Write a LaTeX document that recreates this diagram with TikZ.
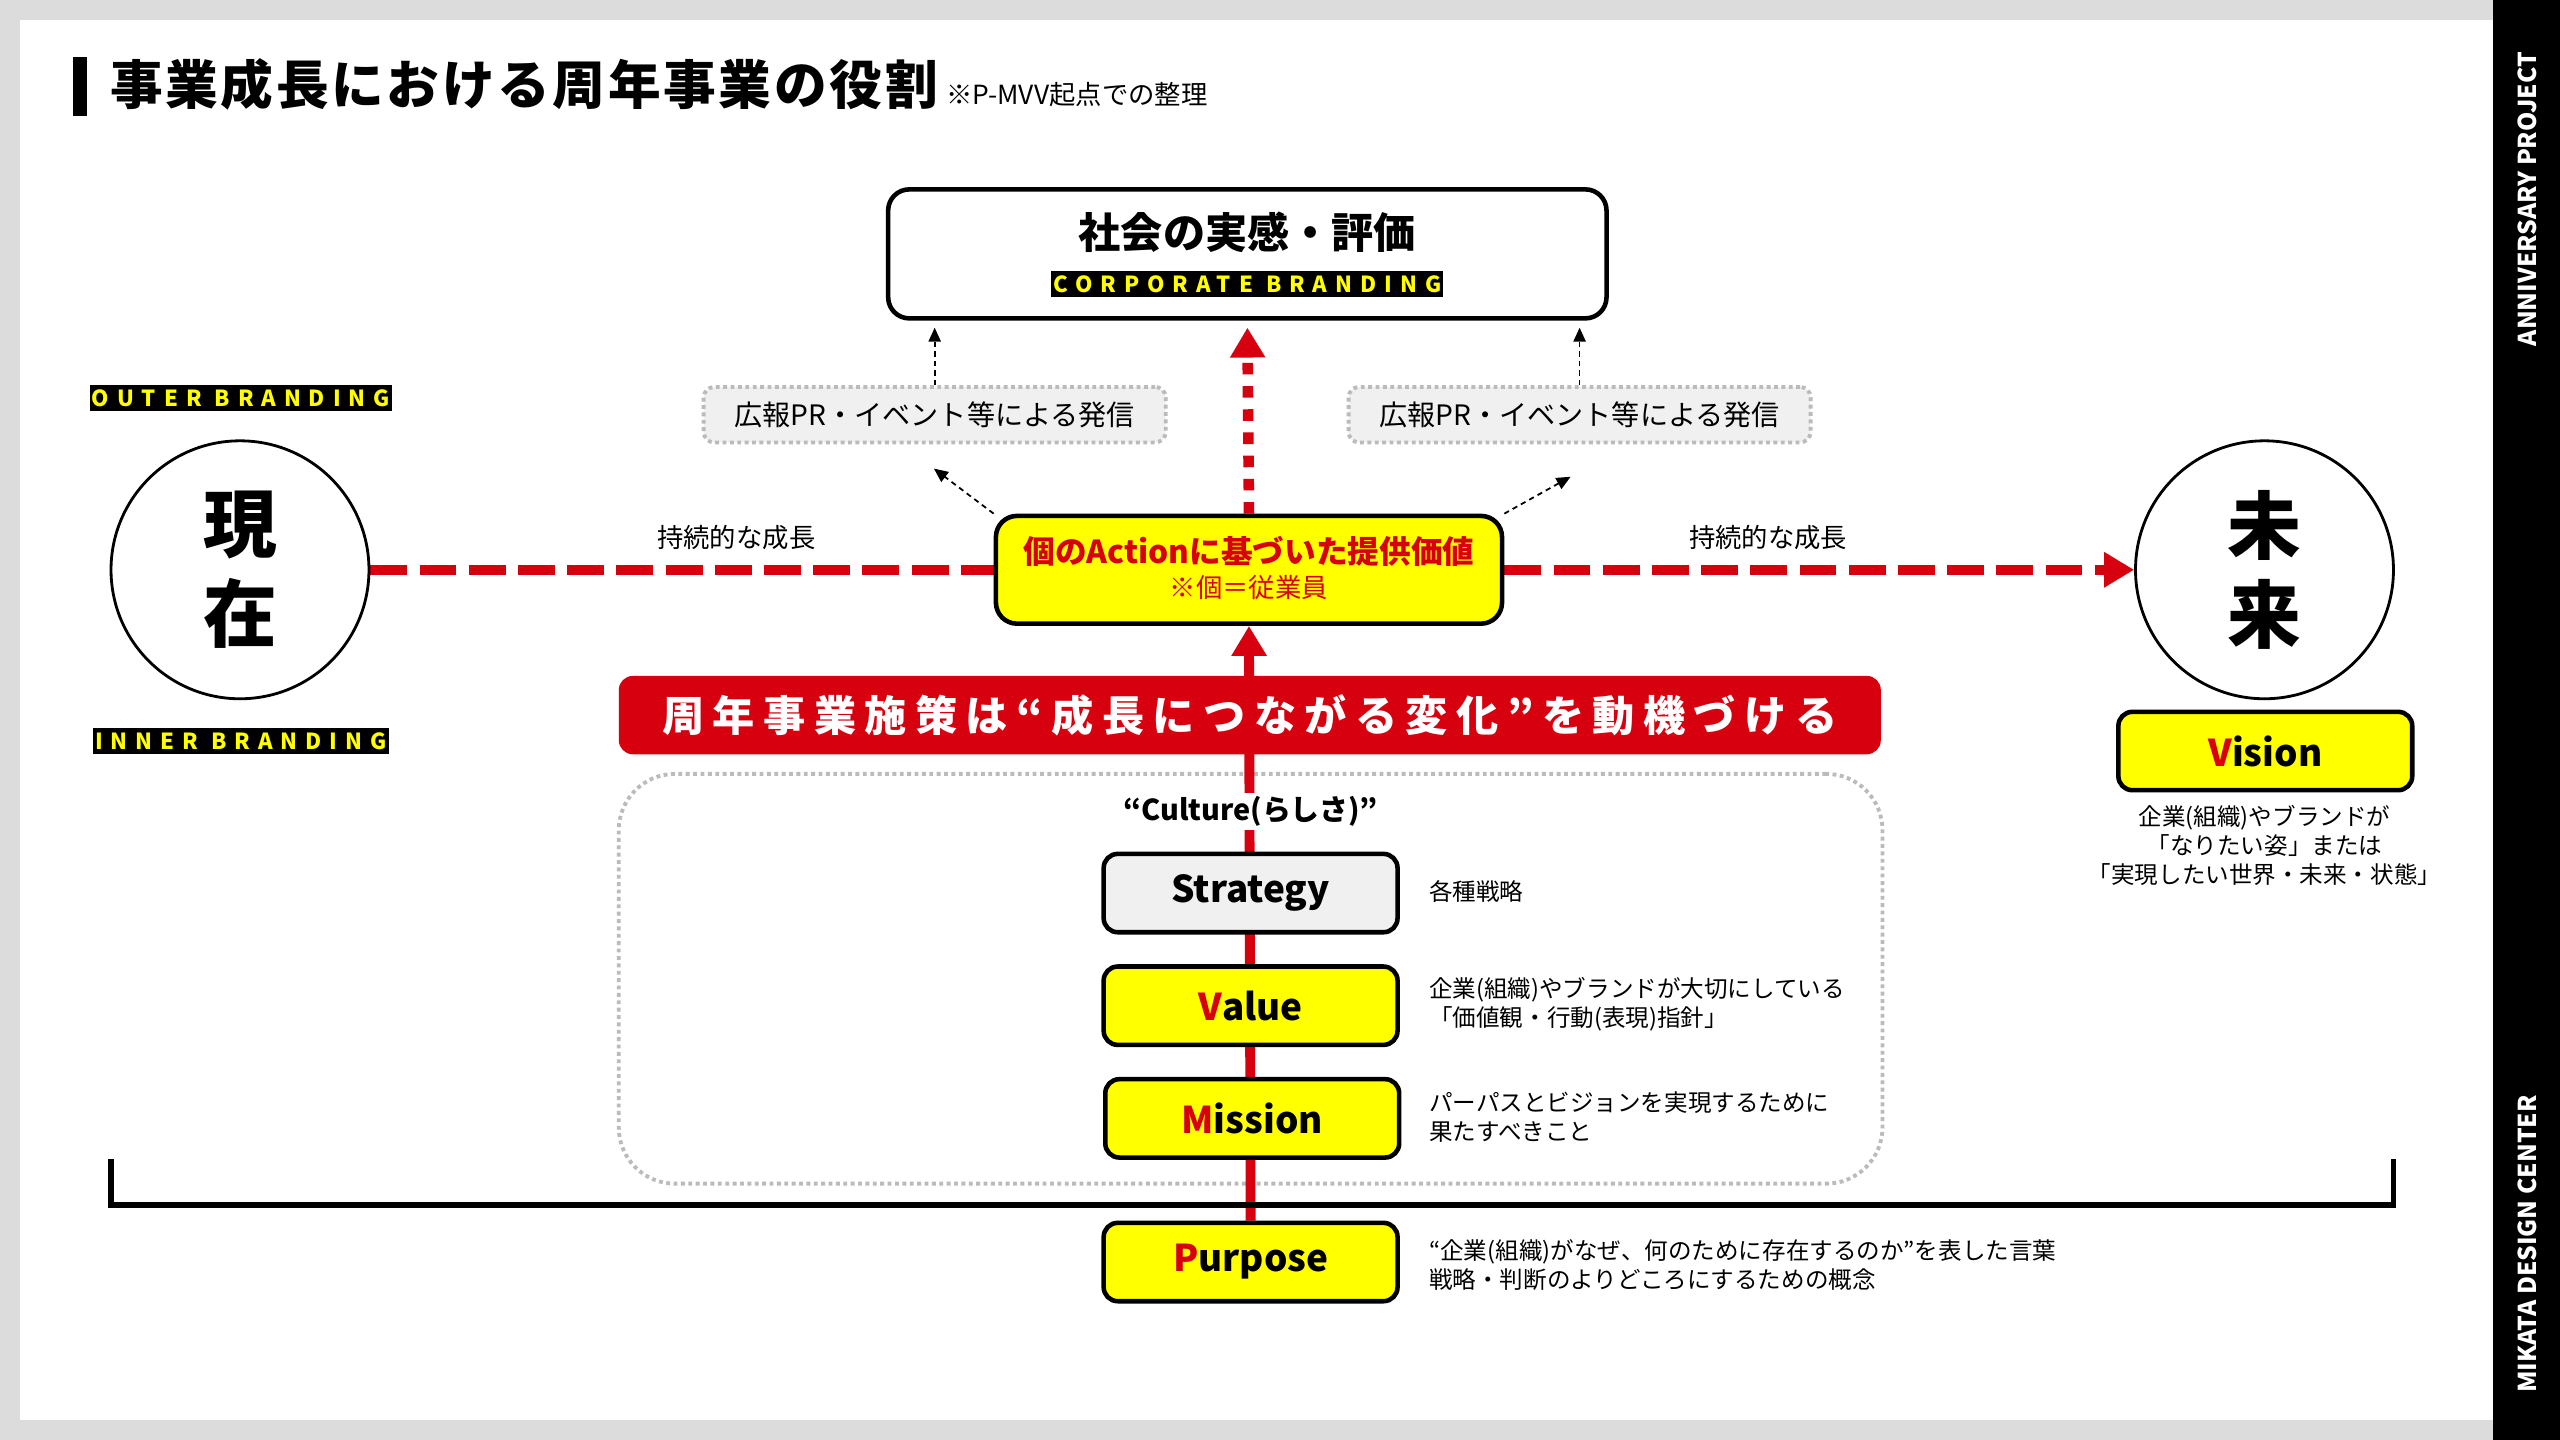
\documentclass[tikz,border=0pt]{standalone}
\usepackage{fontspec}
\usepackage{xcolor}
\usepackage{tikz}
\usetikzlibrary{arrows.meta,calc,positioning}

\setmainfont{Noto Sans CJK JP}
\newfontfamily\spacedfont[LetterSpace=36]{Noto Sans CJK JP}
\newfontfamily\bannerfont[LetterSpace=20]{Noto Sans CJK JP}
\newfontfamily\titlefont[LetterSpace=5]{Noto Sans CJK JP}

\definecolor{mkred}{HTML}{D7000F}
\definecolor{mkyellow}{HTML}{FFFF00}
\definecolor{panelgray}{HTML}{DCDCDC}
\definecolor{boxgray}{HTML}{F0F0F0}
\definecolor{dotgray}{HTML}{BBBBBB}

\newcommand{\mkpx}{0.016327cm}

\pgfdeclarelayer{paper}
\pgfdeclarelayer{wires}
\pgfsetlayers{paper,wires,main}

\tikzset{
  mvvbox/.style={draw, line width=1.3pt, rounded corners=4pt, inner sep=0pt,
    minimum width=180*\mkpx, minimum height=48*\mkpx,
    font=\bfseries\fontsize{10.5}{12}\selectfont},
  yellowbox/.style={mvvbox, fill=mkyellow},
  tagbox/.style={fill=black, text=mkyellow, inner sep=0pt, minimum height=16*\mkpx,
    font=\spacedfont\bfseries\fontsize{6.3}{7}\selectfont},
  prbox/.style={draw=dotgray, line width=1.1pt, densely dotted, fill=boxgray,
    rounded corners=3pt, minimum width=283*\mkpx, minimum height=34*\mkpx,
    font=\fontsize{8}{9}\selectfont},
  timecircle/.style={draw, line width=0.8pt, circle, minimum size=158*\mkpx,
    align=center, font=\bfseries\fontsize{21}{25.5}\selectfont},
  desc/.style={inner sep=0pt, align=left, font=\fontsize{6.7}{8.3}\selectfont},
  striptext/.style={rotate=90, text=white, font=\bfseries\fontsize{7}{8}\selectfont},
  reddash/.style={mkred, line width=3pt, dash pattern=on 10.5pt off 3.5pt},
  reddot/.style={mkred, line width=3pt, dash pattern=on 3.3pt off 3.3pt},
  redtip/.style={-{Triangle[width=9.5pt,length=8.5pt]}},
  tipline/.style={line width=0.5pt, dash pattern=on 1.5pt off 1.2pt,
    -{Triangle[width=3.5pt,length=4pt]}}
}

\begin{document}
\begin{tikzpicture}[x=\mkpx, y=-\mkpx]
  \useasboundingbox (0,0) rectangle (1568,882);
  \begin{pgfonlayer}{paper}
    \fill[panelgray] (0,0) rectangle (1568,882);
    \fill[white] (12,12) rectangle (1527,870);
    \fill[black] (1527,0) rectangle (1568,882);
  \end{pgfonlayer}

  % side strip
  \node[striptext] (project) at (1548,122) {ANNIVERSARY PROJECT};
  \node[striptext] (center) at (1548,762) {MIKATA DESIGN CENTER};

  % title
  \fill (45,35) rectangle (53,71);
  \node[anchor=west, inner sep=0pt, font=\titlefont\bfseries\fontsize{15}{17}\selectfont] (title) at (67,52) {事業成長における周年事業の役割};
  \node[anchor=base west, inner sep=0pt, font=\fontsize{7.5}{9}\selectfont] (subtitle) at ([xshift=2pt]title.base east) {※P-MVV起点での整理};

  % top
  \node[mvvbox, fill=white, rounded corners=6pt, minimum width=440*\mkpx, minimum height=79*\mkpx] (society) at (764,155.5) {};
  \node[font=\bfseries\fontsize{12}{14}\selectfont] (societytxt) at (764,142) {社会の実感・評価};
  \node[tagbox, minimum width=240*\mkpx] (corporate) at (764,174) {CORPORATE BRANDING};

  \node[prbox] (prL) at (572.5,254) {広報PR・イベント等による発信};
  \node[prbox] (prR) at (967.5,254) {広報PR・イベント等による発信};

  % now / future
  \node[tagbox, minimum width=185*\mkpx] (outer) at (147.5,244) {OUTER BRANDING};
  \node[tagbox, minimum width=181*\mkpx] (inner) at (147.5,454) {INNER BRANDING};
  \node[timecircle] (now) at (147,349) {現\\在};
  \node[timecircle] (future) at (1387,349) {未\\来};
  \node[font=\fontsize{7.5}{9}\selectfont] (growL) at (451,329) {持続的な成長};
  \node[font=\fontsize{7.5}{9}\selectfont] (growR) at (1083,329) {持続的な成長};

  \node[yellowbox] (vision) at (1387.5,460) {{\color{mkred}V}ision};
  \node[desc, align=center] (visiondesc) at (1387,518) {企業(組織)やブランドが\\「なりたい姿」または\\「実現したい世界・未来・状態」};

  % action
  \node[yellowbox, rounded corners=6pt, minimum width=310*\mkpx, minimum height=66*\mkpx] (action) at (765,349) {};
  \node[text=mkred, font=\bfseries\fontsize{9}{11}\selectfont] (actiontxt) at (765,338) {個のActionに基づいた提供価値};
  \node[text=mkred, font=\fontsize{7.5}{9}\selectfont] (actionnote) at (765,360) {※個＝従業員};

  \node[fill=mkred, rounded corners=4pt, text=white, minimum width=773*\mkpx, minimum height=48*\mkpx,
    font=\bannerfont\bfseries\fontsize{12}{14}\selectfont] (banner) at (765.5,438) {周年事業施策は“成長につながる変化”を動機づける};

  % MVV stack
  \node[fill=white, inner sep=1pt, font=\bfseries\fontsize{8.2}{10}\selectfont] (culturetxt) at (766,497) {“Culture(らしさ)”};
  \node[mvvbox, fill=boxgray] (strategy) at (766,547) {Strategy};
  \node[yellowbox] (value) at (766,616) {{\color{mkred}V}alue};
  \node[yellowbox] (mission) at (767,685) {{\color{mkred}M}ission};
  \node[yellowbox] (purpose) at (766,773) {{\color{mkred}P}urpose};

  \node[desc, anchor=west] (strategydesc) at (875,546) {各種戦略};
  \node[desc, anchor=west] (valuedesc) at (875,615) {企業(組織)やブランドが大切にしている\\「価値観・行動(表現)指針」};
  \node[desc, anchor=west] (missiondesc) at (875,684) {パーパスとビジョンを実現するために\\果たすべきこと};
  \node[desc, anchor=west] (purposedesc) at (875,775) {“企業(組織)がなぜ、何のために存在するのか”を表した言葉\\戦略・判断のよりどころにするための概念};

  % connectors
  \begin{pgfonlayer}{wires}
    \node[draw=dotgray, line width=1.1pt, densely dotted, rounded corners=16pt,
      minimum width=774*\mkpx, minimum height=251*\mkpx] (culture) at (766,599.5) {};
    \draw[reddash] (now.east) -- (action.west);
    \draw[reddash, redtip] (action.east) -- (future.west);
    \draw[reddot, redtip, shorten >=2pt] (action.north) -- (society.south);
    \draw[mkred, line width=2.8pt, redtip] (purpose.north) -- (action.south);
  \end{pgfonlayer}

  \draw[tipline, shorten >=2pt] (prL.north) -- (prL.north |- society.south);
  \draw[tipline, shorten >=2pt] (prR.north) -- (prR.north |- society.south);
  \coordinate (pl) at (572,287);
  \coordinate (pr) at (962,292);
  \draw[tipline] (action.north west) -- (pl);
  \draw[tipline] (action.north east) -- (pr);

  % bracket
  \coordinate (brL) at (68,710);
  \coordinate (brR) at (1466,710);
  \draw[line width=1.5pt] (brL) -- ++(0,28) -| (brR);
\end{tikzpicture}
\end{document}
